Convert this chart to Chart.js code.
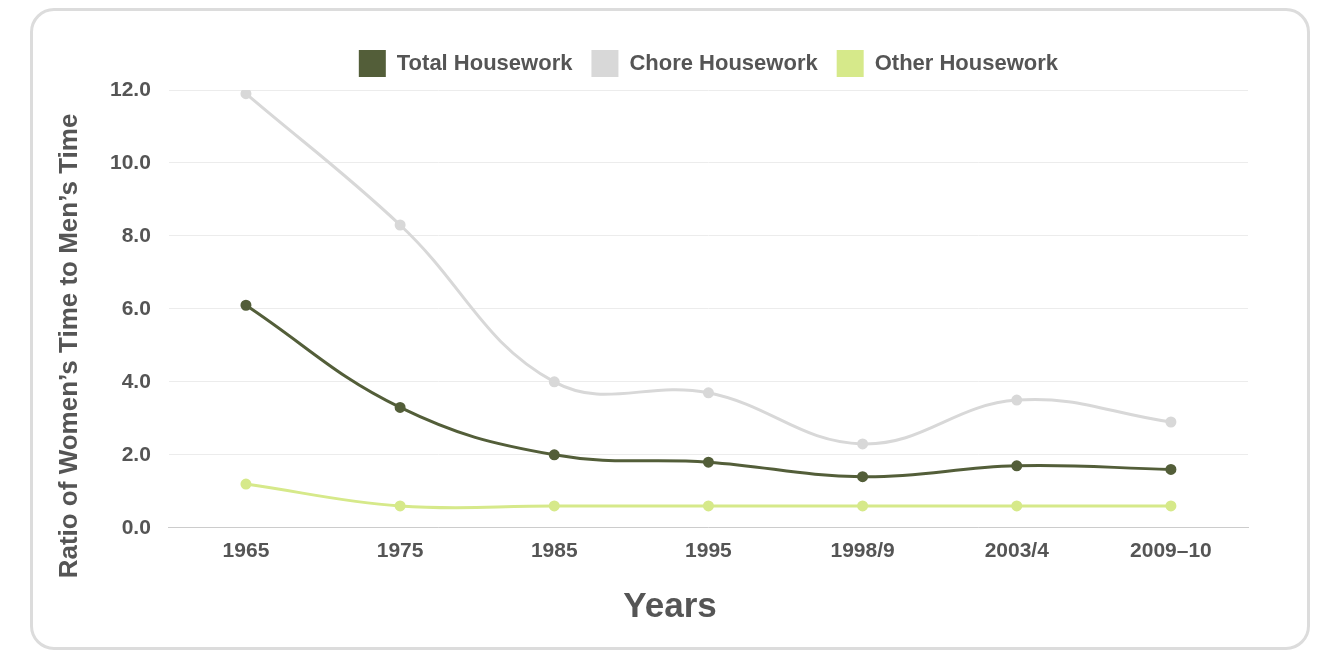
<!DOCTYPE html>
<html>
<head>
    <title>Housework ratio</title>
    <script src="https://cdn.jsdelivr.net/npm/chart.js"></script>
    <style>
        body {
            margin: 0;
            background: #ffffff;
        }
        .frame {
            position: absolute;
            left: 30px;
            top: 8px;
            width: 1274px;
            height: 636px;
            border: 3px solid #dcdcdc;
            border-radius: 24px;
            background: #ffffff;
        }
    </style>
</head>
<body>
    <div class="frame">
        <canvas id="ratioChart"></canvas>
    </div>

    <script>
        const years = ['1965', '1975', '1985', '1995', '1998/9', '2003/4', '2009–10'];
        const totalHousework = [6.1, 3.3, 2.0, 1.8, 1.4, 1.7, 1.6];
        const choreHousework = [11.9, 8.3, 4.0, 3.7, 2.3, 3.5, 2.9];
        const otherHousework = [1.2, 0.6, 0.6, 0.6, 0.6, 0.6, 0.6];
        const yTicks = [0, 2, 4, 6, 8, 10, 12];

        const textColor = '#555555';
        const fontFamily = '"Liberation Sans", Arial, sans-serif';

        function lineSet(label, data, color) {
            return {
                label: label,
                data: data,
                borderColor: color,
                backgroundColor: color,
                pointBackgroundColor: color,
                pointBorderColor: color,
                pointRadius: 4,
                borderWidth: 3,
                tension: 0.4,
                fill: false,
            };
        }

        // axis titles drawn by hand, the source has them off-centre
        const axisTitles = {
            id: 'axisTitles',
            afterDraw(chart) {
                const c = chart.ctx;
                c.save();
                c.fillStyle = textColor;
                c.textAlign = 'center';
                c.textBaseline = 'middle';
                c.font = 'bold 26px ' + fontFamily;
                c.translate(37, 335);
                c.rotate(-Math.PI / 2);
                c.fillText('Ratio of Women’s Time to Men’s Time', 0, 0);
                c.restore();

                c.save();
                c.fillStyle = textColor;
                c.textAlign = 'center';
                c.textBaseline = 'middle';
                c.font = 'bold 35px ' + fontFamily;
                c.fillText('Years', 637, 596);
                c.restore();
            },
        };

        // stretch the legend block a little so the plot starts lower
        const legendTrim = {
            id: 'legendTrim',
            beforeInit(chart) {
                const fit = chart.legend.fit;
                chart.legend.fit = function () {
                    fit.bind(chart.legend)();
                    this.height += 3;
                };
            },
        };

        const ctx = document.getElementById('ratioChart').getContext('2d');
        new Chart(ctx, {
            type: 'line',
            data: {
                labels: years,
                datasets: [
                    lineSet('Total Housework', totalHousework, '#535e39'),
                    lineSet('Chore Housework', choreHousework, '#d8d8d8'),
                    lineSet('Other Housework', otherHousework, '#d6e98a'),
                ],
            },
            plugins: [axisTitles, legendTrim],
            options: {
                responsive: true,
                maintainAspectRatio: false,
                animation: false,
                layout: {
                    padding: { left: 59, right: 59, top: 20, bottom: 80 },
                },
                plugins: {
                    legend: {
                        position: 'top',
                        fullSize: false,
                        labels: {
                            boxWidth: 27,
                            boxHeight: 27,
                            padding: 19,
                            color: textColor,
                            font: { family: fontFamily, size: 22, weight: 'bold' },
                            generateLabels: (chart) => chart.data.datasets.map((ds, i) => ({
                                text: ds.label,
                                fillStyle: ds.borderColor,
                                strokeStyle: ds.borderColor,
                                lineWidth: 0,
                                fontColor: textColor,
                                datasetIndex: i,
                            })),
                        },
                    },
                    tooltip: { enabled: false },
                },
                scales: {
                    x: {
                        offset: true,
                        grid: { display: false },
                        border: { color: '#cccccc', width: 1 },
                        ticks: {
                            color: textColor,
                            padding: 3,
                            font: { family: fontFamily, size: 21, weight: 'bold' },
                        },
                    },
                    y: {
                        min: 0,
                        max: 12,
                        afterBuildTicks: (axis) => {
                            axis.ticks = yTicks.map((v) => ({ value: v }));
                        },
                        grid: { color: '#ececec', drawTicks: false },
                        border: { display: false },
                        ticks: {
                            color: textColor,
                            padding: 18,
                            font: { family: fontFamily, size: 21, weight: 'bold' },
                            callback: (value) => Number(value).toFixed(1),
                        },
                    },
                },
            },
        });
    </script>
</body>
</html>
